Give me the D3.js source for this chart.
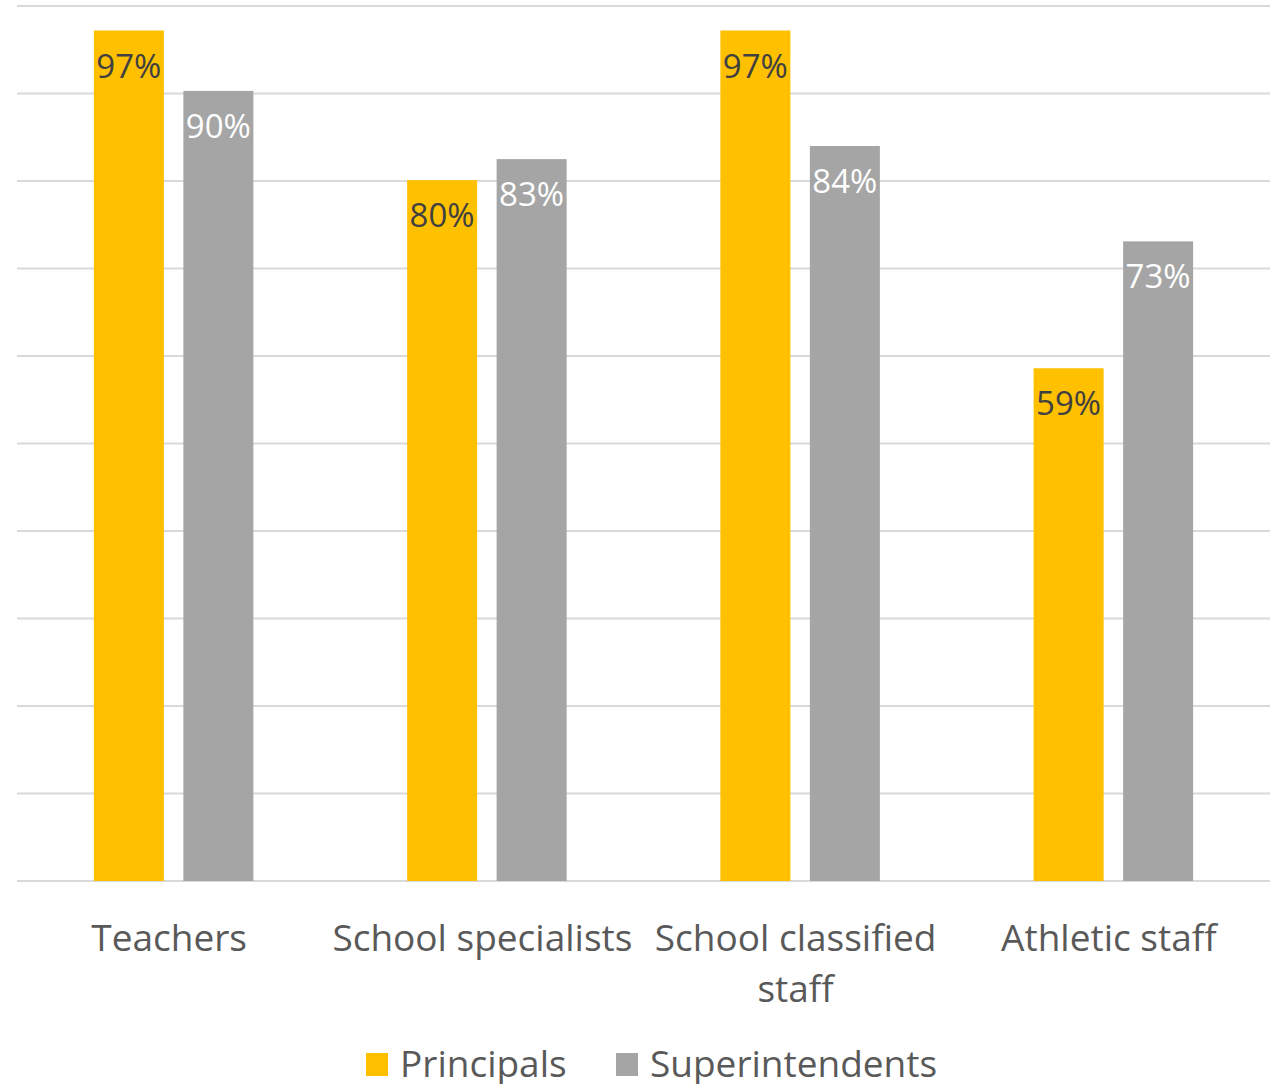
<!DOCTYPE html>
<html><head><meta charset="utf-8">
<script src="https://cdn.jsdelivr.net/npm/d3@7"></script>
<style>
html,body{margin:0;padding:0;background:#fff;}
svg{display:block;}
text{font-family:"Open Sans",sans-serif;}
</style></head>
<body>
<svg id="chart" width="1279" height="1084"></svg>
<script>
const categories = [["Teachers"], ["School specialists"], ["School classified", "staff"], ["Athletic staff"]];
const seriesNames = ["Principals", "Superintendents"];
const principals = [97.2, 80.1, 97.2, 58.6];
const superintendents = [90.3, 82.5, 84.0, 73.1];
const labelsPrincipals = ["97%", "80%", "97%", "59%"];
const labelsSuperintendents = ["90%", "83%", "84%", "73%"];
const yTicks = [0, 10, 20, 30, 40, 50, 60, 70, 80, 90, 100];
const colors = ["#FFC000", "#A5A5A5"];

(function(){
const svg = d3.select("#chart");
const pLeft = 17, pRight = 1270, pTop = 6, pBottom = 881;

const x0 = d3.scaleBand().domain(d3.range(categories.length)).range([pLeft, pRight]).paddingInner(0).paddingOuter(0);
const y = d3.scaleLinear().domain([0, 100]).range([pBottom, pTop]);

svg.append("g").selectAll("line").data(yTicks).join("line")
  .attr("x1", pLeft).attr("x2", pRight)
  .attr("y1", d => y(d)).attr("y2", d => y(d))
  .attr("stroke", "#d9d9d9").attr("stroke-width", 2);

const bw = 70, gap = 19.5;
const data = [];
categories.forEach((c, i) => {
  data.push({i, s: 0, v: principals[i], lab: labelsPrincipals[i]});
  data.push({i, s: 1, v: superintendents[i], lab: labelsSuperintendents[i]});
});
const bx = d => x0(d.i) + x0.bandwidth() / 2 + (d.s === 0 ? -(gap / 2 + bw) : gap / 2);

svg.append("g").selectAll("rect").data(data).join("rect")
  .attr("x", bx).attr("width", bw)
  .attr("y", d => y(d.v)).attr("height", d => pBottom - y(d.v))
  .attr("fill", d => colors[d.s]);

svg.append("g").selectAll("text").data(data).join("text")
  .attr("x", d => bx(d) + bw / 2)
  .attr("y", d => y(d.v) + 47)
  .attr("text-anchor", "middle")
  .attr("font-size", 33)
  .attr("fill", d => d.s === 0 ? "#404040" : "#ffffff")
  .text(d => d.lab);

const cg = svg.append("g");
categories.forEach((lines, i) => {
  const cx = x0(i) + x0.bandwidth() / 2 - 4.5;
  const t = cg.append("text")
    .attr("x", cx)
    .attr("y", 951)
    .attr("text-anchor", "middle")
    .attr("font-size", 37)
    .attr("fill", "#595959");
  lines.forEach((ln, k) => {
    t.append("tspan").attr("x", cx).attr("y", 951 + k * 51).text(ln);
  });
});

const legendX = [366, 616];
const lg = svg.append("g");
seriesNames.forEach((n, i) => {
  lg.append("rect").attr("x", legendX[i]).attr("y", 1053).attr("width", 22).attr("height", 23).attr("fill", colors[i]);
  lg.append("text").attr("x", legendX[i] + 34).attr("y", 1077)
    .attr("font-size", 37).attr("fill", "#595959").text(n);
});
})();
</script>
</body></html>
